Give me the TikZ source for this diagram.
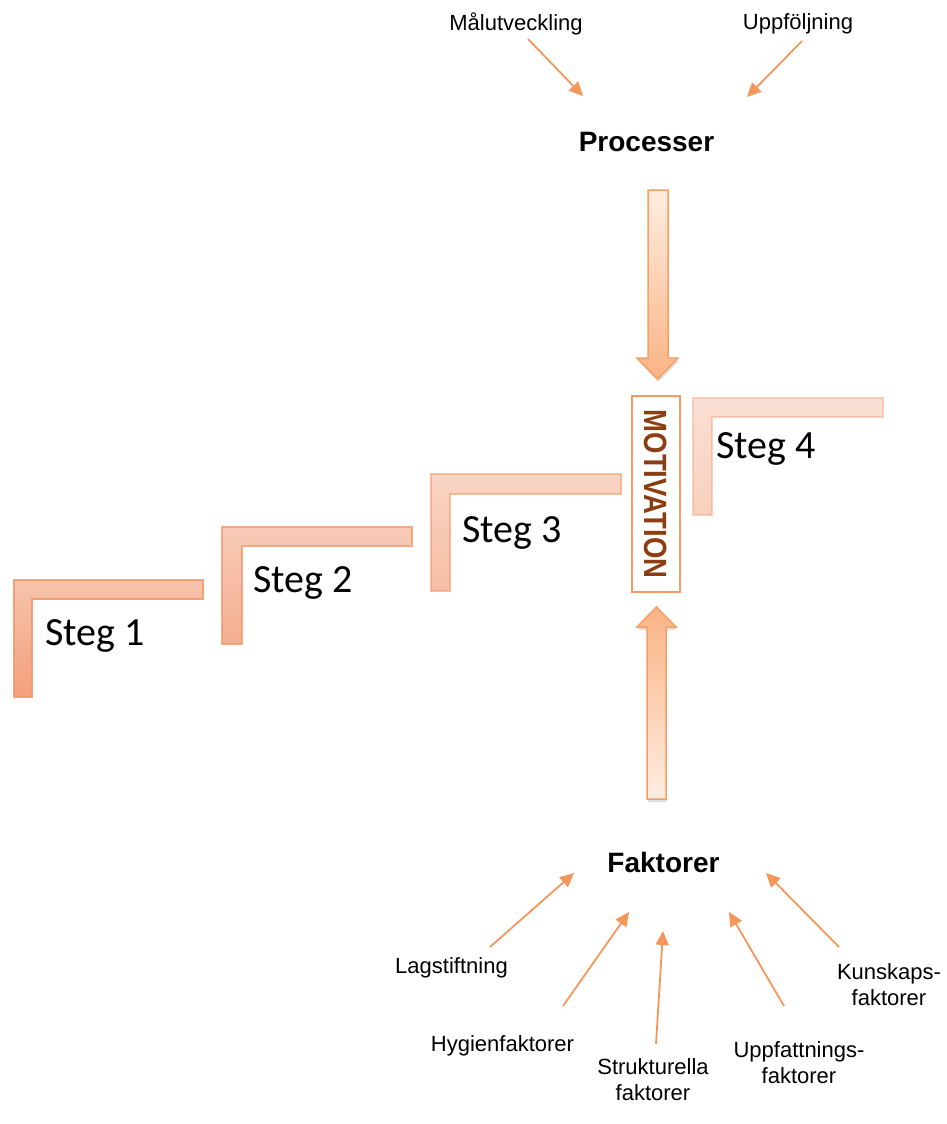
\documentclass[tikz,border=0pt]{standalone}
\usepackage{fontspec}
\setmainfont{Liberation Sans}
\newfontfamily\stegfont{Carlito}
\usetikzlibrary{arrows.meta,shadows,calc}
\definecolor{lineor}{HTML}{F5975A}
\definecolor{arrowbd}{HTML}{F7A064}
\definecolor{arrowlt}{HTML}{FEEDE1}
\definecolor{arrowdk}{HTML}{FAB384}
\definecolor{motbd}{HTML}{F39B63}
\definecolor{motbrown}{HTML}{8B3E12}
\definecolor{stepbd}{HTML}{F29A6C}
\tikzset{
  thinarrow/.style={draw=lineor, line width=1.8pt, -{Triangle[length=14pt,width=13pt]}},
  smalllabel/.style={font=\fontsize{22}{26}\selectfont, inner sep=0pt, align=center},
  biglabel/.style={font=\fontsize{28}{32}\selectfont\bfseries, inner sep=0pt},
  stegtext/.style={font=\stegfont\fontsize{40}{44}\selectfont, inner sep=0pt, anchor=base west},
  blockarrow/.style={draw=arrowbd, line width=1.5pt, drop shadow={opacity=0.25, shadow xshift=1pt, shadow yshift=-3pt}},
  lstep/.style={draw=stepbd, draw opacity=#1, line width=1.2pt},
}
\begin{document}
\begin{tikzpicture}[x=1pt,y=-1pt]
\useasboundingbox (0,0) rectangle (947,1124);
\fill[white] (0,0) rectangle (947,1124);

% ---- steps (L shapes) ----
\path[lstep=0.9, top color={rgb,255:red,246;green,196;blue,172}, bottom color={rgb,255:red,243;green,160;blue,124}]
  (14,580) -- (203,580) -- (203,599) -- (32,599) -- (32,697) -- (14,697) -- cycle;
\path[lstep=0.8, top color={rgb,255:red,247;green,203;blue,183}, bottom color={rgb,255:red,244;green,174;blue,143}]
  (222,527) -- (412,527) -- (412,546) -- (242,546) -- (242,644) -- (222,644) -- cycle;
\path[lstep=0.6, top color={rgb,255:red,248;green,212;blue,196}, bottom color={rgb,255:red,246;green,190;blue,164}]
  (431,474) -- (621,474) -- (621,494) -- (450,494) -- (450,591) -- (431,591) -- cycle;
\path[lstep=0.4, top color={rgb,255:red,250;green,224;blue,212}, bottom color={rgb,255:red,248;green,208;blue,190}]
  (693,398) -- (883,398) -- (883,417) -- (712,417) -- (712,515) -- (693,515) -- cycle;

\node[stegtext] (s1) at (45,645) {Steg 1};
\node[stegtext] (s2) at (253,592) {Steg 2};
\node[stegtext] (s3) at (462,542) {Steg 3};
\node[stegtext] (s4) at (716,458) {Steg 4};

% ---- block arrows ----
\path[blockarrow, top color=arrowlt, bottom color=arrowdk]
  (648,190) -- (668,190) -- (668,358) -- (678,358) -- (657.5,379) -- (637,358) -- (648,358) -- cycle;
\path[blockarrow, top color=arrowdk, bottom color=arrowlt]
  (647,799) -- (666,799) -- (666,627) -- (676,627) -- (656.5,607) -- (637,627) -- (647,627) -- cycle;

% ---- MOTIVATION ----
\node[draw=motbd, line width=1.5pt, fill=white, minimum width=48pt, minimum height=196pt, inner sep=0pt] (mot) at (656,494) {};
\node[rotate=-90, text=motbrown, font=\fontsize{27.5}{30}\selectfont\bfseries, inner sep=0pt] (motxt) at (mot.center) {\scalebox{1}[1.17]{MOTIVATION}};

% ---- Processer ----
\node[biglabel, drop shadow={opacity=0}] (proc) at (646.5,142) {Processer};
\node[smalllabel] (mal) at (516,24) {Målutveckling};
\node[smalllabel] (upp) at (798,24) {Uppföljning};
\coordinate (malS) at (528,39);
\coordinate (malT) at (583,96);
\coordinate (uppS) at (802,41);
\coordinate (uppT) at (747,97);
\draw[thinarrow] (malS) -- (malT);
\draw[thinarrow] (uppS) -- (uppT);

% ---- Faktorer ----
\node[biglabel] (fak) at (663.5,862) {Faktorer};
\node[smalllabel] (lag) at (451.5,968) {Lagstiftning};
\node[smalllabel] (hyg) at (502.5,1046) {Hygienfaktorer};
\node[smalllabel] (str) at (653,1080) {Strukturella\\faktorer};
\node[smalllabel] (uppf) at (799,1063) {Uppfattnings-\\faktorer};
\node[smalllabel] (kun) at (889,984.5) {Kunskaps-\\faktorer};

\coordinate (lagS) at (490,947);  \coordinate (lagT) at (574,873);
\coordinate (hygS) at (563,1006); \coordinate (hygT) at (629,912);
\coordinate (strS) at (656,1044); \coordinate (strT) at (663,931);
\coordinate (uppfS) at (784,1006); \coordinate (uppfT) at (729,912);
\coordinate (kunS) at (839,947);  \coordinate (kunT) at (766,873);
\draw[thinarrow] (lagS) -- (lagT);
\draw[thinarrow] (hygS) -- (hygT);
\draw[thinarrow] (strS) -- (strT);
\draw[thinarrow] (uppfS) -- (uppfT);
\draw[thinarrow] (kunS) -- (kunT);
\end{tikzpicture}
\end{document}
